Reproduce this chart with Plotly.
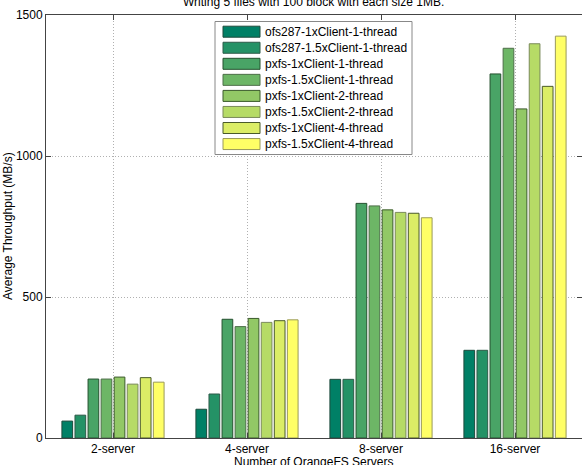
import plotly.graph_objects as go

categories = ["2-server", "4-server", "8-server", "16-server"]
series_names = [
    "ofs287-1xClient-1-thread",
    "ofs287-1.5xClient-1-thread",
    "pxfs-1xClient-1-thread",
    "pxfs-1.5xClient-1-thread",
    "pxfs-1xClient-2-thread",
    "pxfs-1.5xClient-2-thread",
    "pxfs-1xClient-4-thread",
    "pxfs-1.5xClient-4-thread",
]
ofs287_1x_1t = [60, 102, 208, 311]
ofs287_15x_1t = [81, 156, 208, 311]
pxfs_1x_1t = [209, 421, 832, 1291]
pxfs_15x_1t = [209, 395, 823, 1382]
pxfs_1x_2t = [216, 424, 809, 1167]
pxfs_15x_2t = [191, 410, 800, 1398]
pxfs_1x_4t = [214, 416, 797, 1247]
pxfs_15x_4t = [198, 419, 781, 1425]
series_values = [ofs287_1x_1t, ofs287_15x_1t, pxfs_1x_1t, pxfs_15x_1t,
                 pxfs_1x_2t, pxfs_15x_2t, pxfs_1x_4t, pxfs_15x_4t]
colors = ["#008066", "#249266", "#49a466", "#6db666",
          "#92c866", "#b6db66", "#dbed66", "#ffff66"]
edge_colors = ["#1d4a3c", "#2d5a48", "#24502e", "#4d6e48",
               "#3a5a2a", "#7a8a5a", "#4a5a2a", "#9a9a5a"]

FONT = "Liberation Sans, Arial, sans-serif"
W, H = 582, 465
ML, MR, MT, MB = 46, 0, 15, 27
PW, PH = W - ML - MR, H - MT - MB


def px_x(p):
    return (p - ML) / PW


def px_y(p):
    return (H - MB - p) / PH


fig = go.Figure()
for name, vals, c, ec in zip(series_names, series_values, colors, edge_colors):
    fig.add_trace(go.Bar(
        x=categories, y=vals, name=name, showlegend=False,
        marker=dict(color=c, line=dict(color=ec, width=1)),
    ))

# manual legend (MATLAB style)
shapes = [dict(type="rect", xref="paper", yref="paper",
               x0=px_x(215), x1=px_x(412), y0=px_y(154.5), y1=px_y(21.5),
               fillcolor="white", line=dict(color="#888888", width=1),
               layer="above")]
annotations = []
for i, (name, c, ec) in enumerate(zip(series_names, colors, edge_colors)):
    cy = 31.7 + 16.05 * i
    shapes.append(dict(type="rect", xref="paper", yref="paper",
                       x0=px_x(223), x1=px_x(260), y0=px_y(cy + 5.5), y1=px_y(cy - 5.5),
                       fillcolor=c, line=dict(color=ec, width=1), layer="above"))
    annotations.append(dict(text=name, xref="paper", yref="paper",
                            x=px_x(263), y=px_y(cy), xanchor="left", yanchor="middle",
                            showarrow=False,
                            font=dict(family=FONT, size=12, color="black")))

annotations += [
    dict(text="Writing 5 files with 100 block with each size 1MB.",
         xref="paper", yref="paper", x=px_x(313), y=px_y(2),
         xanchor="center", yanchor="middle", showarrow=False,
         font=dict(family=FONT, size=12, color="black")),
    dict(text="Number of OrangeFS Servers",
         xref="paper", yref="paper", x=px_x(313), y=px_y(462),
         xanchor="center", yanchor="middle", showarrow=False,
         font=dict(family=FONT, size=12, color="black")),
    dict(text="Average Throughput (MB/s)",
         xref="paper", yref="paper", x=px_x(8), y=px_y(226), textangle=-90,
         xanchor="center", yanchor="middle", showarrow=False,
         font=dict(family=FONT, size=12, color="black")),
]

fig.update_layout(
    width=W, height=H,
    margin=dict(l=ML, r=MR, t=MT, b=MB),
    paper_bgcolor="white", plot_bgcolor="white",
    font=dict(family=FONT, size=12, color="black"),
    barmode="group", bargap=0.22, bargroupgap=0.18,
    showlegend=False,
    shapes=shapes,
    annotations=annotations,
)
fig.update_xaxes(
    type="category", categoryorder="array", categoryarray=categories,
    showline=True, linecolor="#444444", linewidth=1, mirror="ticks",
    showgrid=True, gridcolor="#b0b0b0", griddash="1px,2px", gridwidth=1,
    ticks="inside", ticklen=5, tickcolor="#444444",
    automargin=False,
    tickfont=dict(family=FONT, size=12),
)
fig.update_yaxes(
    range=[0, 1500], tickvals=[0, 500, 1000, 1500],
    showline=True, linecolor="#444444", linewidth=1, mirror="ticks",
    showgrid=True, gridcolor="#b0b0b0", griddash="1px,2px", gridwidth=1,
    zeroline=False, automargin=False,
    ticks="inside", ticklen=5, tickcolor="#444444",
    tickfont=dict(family=FONT, size=12),
)

fig.write_html("out.html")
